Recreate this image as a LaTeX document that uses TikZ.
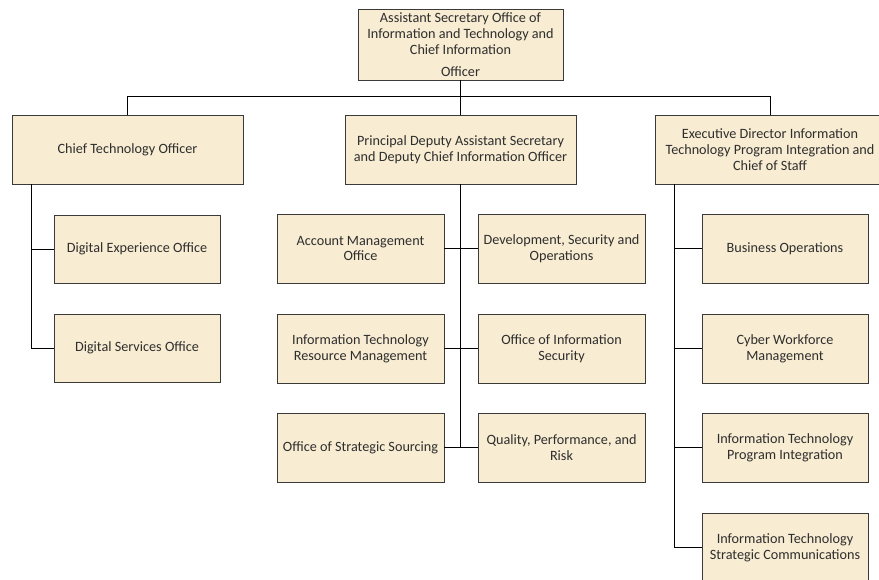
\documentclass[tikz,border=0pt]{standalone}
\usepackage{fontspec}
\setmainfont{Carlito}
\definecolor{boxfill}{HTML}{F8ECD2}
\definecolor{boxline}{HTML}{3A3A3A}
\begin{document}
\begin{tikzpicture}[x=1pt,y=-1pt,
  orgbox/.style={draw=boxline,line width=0.9pt,fill=boxfill,inner sep=1pt,align=center,
    font=\fontsize{14.2}{15.8}\selectfont,text=black!82},
  conn/.style={draw=black,line width=0.8pt}]
\useasboundingbox (0,0) rectangle (879,580);
\clip (0,0) rectangle (879,580);
\fill[white] (0,0) rectangle (879,580);
% top level
\node[orgbox,minimum width=205pt,minimum height=71pt] (top) at (460.5,44.5)
  {Assistant Secretary Office of\\Information and Technology and\\Chief Information\\[6pt]Officer};
\node[orgbox,minimum width=231pt,minimum height=69pt] (cto) at (127.5,149.5) {Chief Technology Officer};
\node[orgbox,minimum width=231pt,minimum height=69pt] (pdas) at (460.5,149.5)
  {Principal Deputy Assistant Secretary\\and Deputy Chief Information Officer};
\node[orgbox,minimum width=230pt,minimum height=69pt] (exec) at (770,149.5)
  {Executive Director Information\\Technology Program Integration and\\Chief of Staff};
% left
\node[orgbox,minimum width=166pt,minimum height=68pt] (dxo) at (137,249) {Digital Experience Office};
\node[orgbox,minimum width=166pt,minimum height=68pt] (dso) at (137,348) {Digital Services Office};
% middle
\node[orgbox,minimum width=167pt,minimum height=69pt] (amo) at (360.5,248.5) {Account Management\\Office};
\node[orgbox,minimum width=167pt,minimum height=69pt] (dev) at (561.5,248.5) {Development, Security and\\Operations};
\node[orgbox,minimum width=167pt,minimum height=69pt] (itrm) at (360.5,348.5) {Information Technology\\Resource Management};
\node[orgbox,minimum width=167pt,minimum height=69pt] (ois) at (561.5,348.5) {Office of Information\\Security};
\node[orgbox,minimum width=167pt,minimum height=69pt] (oss) at (360.5,447.5) {Office of Strategic Sourcing};
\node[orgbox,minimum width=167pt,minimum height=69pt] (qpr) at (561.5,447.5) {Quality, Performance, and\\Risk};
% right
\node[orgbox,minimum width=166pt,minimum height=69pt] (bo) at (785,248.5) {Business Operations};
\node[orgbox,minimum width=166pt,minimum height=69pt] (cwm) at (785,348.5) {Cyber Workforce\\Management};
\node[orgbox,minimum width=166pt,minimum height=69pt] (itpi) at (785,447.5) {Information Technology\\Program Integration};
\node[orgbox,minimum width=166pt,minimum height=69pt] (itsc) at (785,547.5) {Information Technology\\Strategic Communications};
% connectors
\draw[conn] (top.south) -- (pdas.north);
\draw[conn] (cto.north) -- ++(0,-18) -| (exec.north);
\draw[conn] (cto.south west) ++(20,0) |- (dso.west);
\draw[conn] (dxo.west) -- ++(-22,0);
\draw[conn] (pdas.south) -- (pdas.south |- oss.east);
\draw[conn] (amo.east) -- (dev.west);
\draw[conn] (itrm.east) -- (ois.west);
\draw[conn] (oss.east) -- (qpr.west);
\draw[conn] (exec.south west) ++(20,0) |- (itsc.west);
\draw[conn] (bo.west) -- ++(-27,0);
\draw[conn] (cwm.west) -- ++(-27,0);
\draw[conn] (itpi.west) -- ++(-27,0);
\end{tikzpicture}
\end{document}
